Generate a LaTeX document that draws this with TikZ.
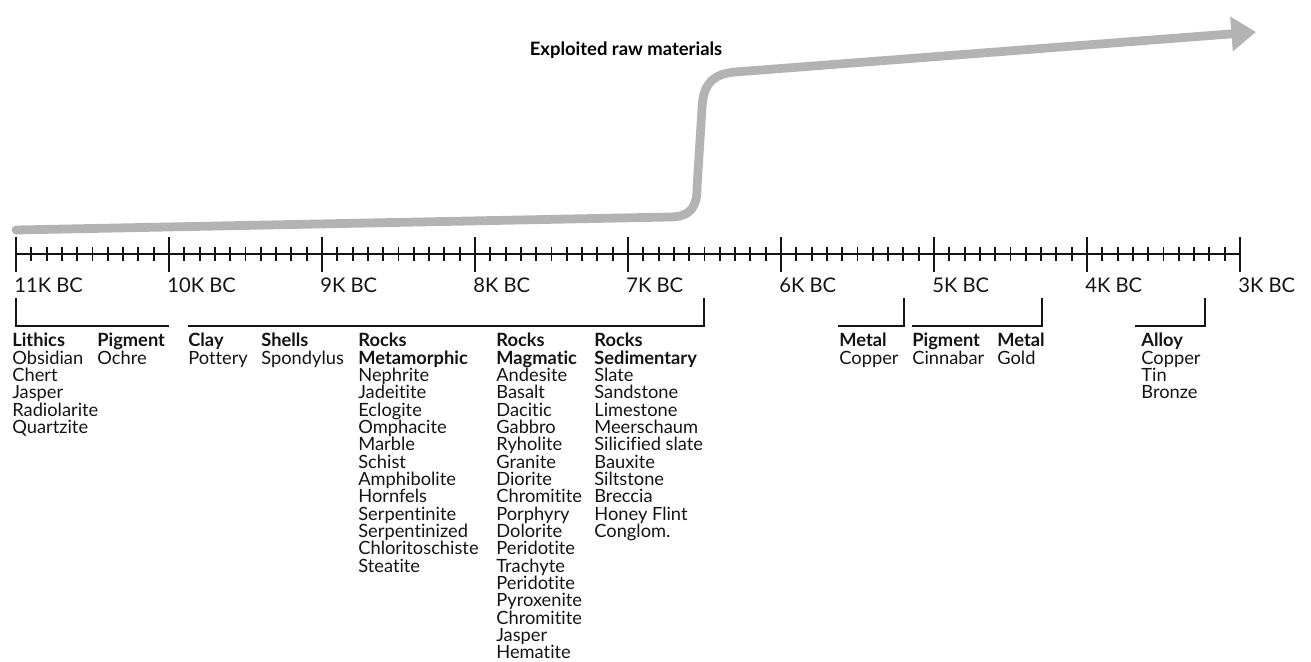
\documentclass[tikz,border=0pt]{standalone}
\usepackage{fontspec}
\setmainfont{Lato}[Ligatures={NoCommon,NoRare,NoDiscretionary}]
\usepackage{tikz}
\usetikzlibrary{arrows.meta,positioning}
\usepackage{xcolor}
\definecolor{trendgray}{RGB}{179,179,179}
\definecolor{inkblack}{RGB}{20,20,20}

\tikzset{
  group/.style={anchor=north west, align=left, inner sep=0pt, font=\fontsize{10.4}{9.86}\selectfont, text=inkblack},
  era/.style={anchor=west, inner sep=0pt, font=\fontsize{11.5}{12}\selectfont, text=inkblack},
  brace/.style={line width=0.8pt, inkblack}
}

\begin{document}
\begin{tikzpicture}[x=0.02cm, y=-0.02cm]
  \useasboundingbox (0,0) rectangle (1311,662);
  % trend arrow
  \draw[trendgray, line width=5pt, line cap=round, -{Triangle[length=14pt,width=19pt]}]
    (16,230) -- (670,217) .. controls (692,217) and (697,205) .. (697,188)
    -- (702,108) .. controls (703,85) and (712,74) .. (735,72) -- (1256,32);
  \node[font=\bfseries\fontsize{10.5}{12}\selectfont, inner sep=0pt] (title) at (626,50) {Exploited raw materials};
  % axis
  \draw[line width=1.2pt, inkblack] (16,254) -- (1240,254);
  \foreach \i/\lab in {0/11K BC,1/10K BC,2/9K BC,3/8K BC,4/7K BC,5/6K BC,6/5K BC,7/4K BC,8/3K BC}{
    \draw[line width=1.3pt, inkblack] (16+153*\i,237) -- (16+153*\i,272);
    \node[era] (era\i) at (16+153*\i-2,285) {\lab};
  }
  \foreach \i in {0,...,7}{
    \foreach \j in {1,...,9}{
      \draw[line width=1.1pt, inkblack] (16+153*\i+15.3*\j,247) -- (16+153*\i+15.3*\j,261);
    }
  }
  % brackets
  \draw[brace] (16,298) -- (16,326) -- (169,326);
  \draw[brace] (188,326) -- (704,326) -- (704,298);
  \draw[brace] (838,326) -- (904,326) -- (904,298);
  \draw[brace] (912,326) -- (1042,326) -- (1042,298);
  \draw[brace] (1135,326) -- (1205,326) -- (1205,298);
  % material groups
  \node[group] (lithics) at (12,333) {\textbf{Lithics}\\Obsidian\\Chert\\Jasper\\Radiolarite\\Quartzite};
  \node[group] (ochre) at (97,333) {\textbf{Pigment}\\Ochre};
  \node[group] (clay) at (188,333) {\textbf{Clay}\\Pottery};
  \node[group] (shells) at (261,333) {\textbf{Shells}\\Spondylus};
  \node[group] (meta) at (358,333) {\textbf{Rocks}\\\textbf{Metamorphic}\\Nephrite\\Jadeitite\\Eclogite\\Omphacite\\Marble\\Schist\\Amphibolite\\Hornfels\\Serpentinite\\Serpentinized\\Chloritoschiste\\Steatite};
  \node[group] (magma) at (496,333) {\textbf{Rocks}\\\textbf{Magmatic}\\Andesite\\Basalt\\Dacitic\\Gabbro\\Ryholite\\Granite\\Diorite\\Chromitite\\Porphyry\\Dolorite\\Peridotite\\Trachyte\\Peridotite\\Pyroxenite\\Chromitite\\Jasper\\Hematite};
  \node[group] (sedi) at (594,333) {\textbf{Rocks}\\\textbf{Sedimentary}\\Slate\\Sandstone\\Limestone\\Meerschaum\\Silicified slate\\Bauxite\\Siltstone\\Breccia\\Honey Flint\\Conglom.};
  \node[group] (copper) at (839,333) {\textbf{Metal}\\Copper};
  \node[group] (cinnabar) at (912,333) {\textbf{Pigment}\\Cinnabar};
  \node[group] (gold) at (997,333) {\textbf{Metal}\\Gold};
  \node[group] (alloy) at (1141,333) {\textbf{Alloy}\\Copper\\Tin\\Bronze};
\end{tikzpicture}
\end{document}
